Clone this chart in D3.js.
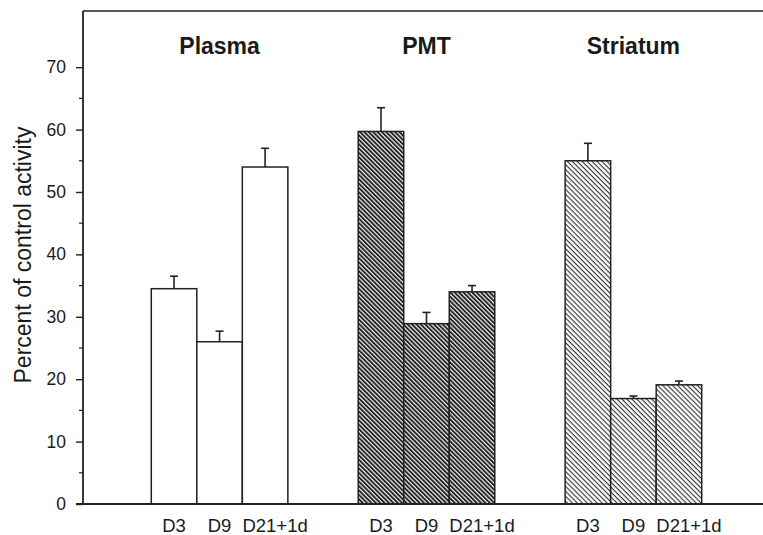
<!DOCTYPE html>
<html>
<head>
<meta charset="utf-8">
<script src="https://cdn.jsdelivr.net/npm/d3@7"></script>
<style>
  body { margin: 0; background: #fff; }
  text { font-family: "Liberation Sans", Arial, Helvetica, sans-serif; fill: #1a1a1a; }
</style>
</head>
<body>
<div id="chart"></div>
<script>
// data
const tissues = ["Plasma", "PMT", "Striatum"];
const sessions = ["D3", "D9", "D21+1d"];
const plasmaMeans = [34.5, 26.0, 54.0];
const plasmaErr = [2.0, 1.7, 3.0];
const pmtMeans = [59.7, 28.9, 34.0];
const pmtErr = [3.8, 1.8, 1.0];
const striatumMeans = [55.0, 16.9, 19.1];
const striatumErr = [2.8, 0.4, 0.6];
const yTicks = [0, 10, 20, 30, 40, 50, 60, 70];
const yMinorTicks = [5, 15, 25, 35, 45, 55, 65];

const width = 763;
const height = 535;
const plotLeft = 83, plotTop = 11, plotBottom = 504, plotRight = 763;

const means = [plasmaMeans, pmtMeans, striatumMeans];
const errs = [plasmaErr, pmtErr, striatumErr];
const data = [];
tissues.forEach((t, i) => {
    sessions.forEach((s, j) => {
        data.push({ tissue: t, session: s, value: means[i][j], err: errs[i][j] });
    });
});

const svg = d3.select("#chart").append("svg").attr("width", width).attr("height", height);

// hatch fills
const defs = svg.append("defs");
const pDark = defs.append("pattern")
    .attr("id", "hatchDark")
    .attr("patternUnits", "userSpaceOnUse")
    .attr("width", 3.1).attr("height", 3.1)
    .attr("patternTransform", "rotate(45)");
pDark.append("rect").attr("width", 3.1).attr("height", 3.1).attr("fill", "#222");
pDark.append("rect").attr("y", 0).attr("width", 3.1).attr("height", 1.2).attr("fill", "#f2f2f2");

const pLight = defs.append("pattern")
    .attr("id", "hatchLight")
    .attr("patternUnits", "userSpaceOnUse")
    .attr("width", 3.5).attr("height", 3.5)
    .attr("patternTransform", "rotate(45)");
pLight.append("rect").attr("width", 3.5).attr("height", 3.5).attr("fill", "#fff");
pLight.append("rect").attr("y", 0).attr("width", 3.5).attr("height", 1.1).attr("fill", "#333");

const fills = { "Plasma": "#fff", "PMT": "url(#hatchDark)", "Striatum": "url(#hatchLight)" };

// scales
const xGroup = d3.scaleBand()
    .domain(tissues)
    .range([plotLeft, 770])
    .paddingInner(0.34)
    .paddingOuter(0.33);

const xBar = d3.scaleBand()
    .domain(sessions)
    .range([0, xGroup.bandwidth()]);

const yScale = d3.scaleLinear()
    .domain([0, 79])
    .range([plotBottom, plotTop]);

// frame
svg.append("line")
    .attr("x1", plotLeft).attr("x2", plotRight)
    .attr("y1", plotTop).attr("y2", plotTop)
    .attr("stroke", "#222").attr("stroke-width", 1.6);

// y axis
const yAxis = d3.axisLeft(yScale).tickValues(yTicks).tickSize(7).tickPadding(10);
const gy = svg.append("g")
    .attr("transform", `translate(${plotLeft}, 0)`)
    .call(yAxis);
gy.select(".domain").attr("stroke", "#222").attr("stroke-width", 1.8).attr("d", `M0,${plotTop}V${plotBottom}`);
gy.selectAll(".tick line").attr("stroke", "#222").attr("stroke-width", 1.4);
gy.selectAll(".tick text").style("font-size", "17.5px").attr("fill", "#1a1a1a");

gy.selectAll(".minor")
    .data(yMinorTicks)
    .join("line")
    .attr("class", "minor")
    .attr("x1", -4).attr("x2", 0)
    .attr("y1", (d) => yScale(d)).attr("y2", (d) => yScale(d))
    .attr("stroke", "#222").attr("stroke-width", 1.2);

svg.append("text")
    .attr("transform", `translate(31, 255) rotate(-90)`)
    .attr("text-anchor", "middle")
    .style("font-size", "23px")
    .text("Percent of control activity");

// bars
const groups = svg.selectAll(".group")
    .data(tissues)
    .join("g")
    .attr("class", "group")
    .attr("transform", (d) => `translate(${xGroup(d)}, 0)`);

groups.append("text")
    .attr("x", xGroup.bandwidth() / 2)
    .attr("y", 54)
    .attr("text-anchor", "middle")
    .style("font-size", "23px")
    .style("font-weight", "bold")
    .text((d) => d);

const bars = groups.selectAll(".bar")
    .data((t) => data.filter((d) => d.tissue === t))
    .join("g")
    .attr("class", "bar");

// error bars first so the bar outline sits over the stem base
bars.append("line")
    .attr("x1", (d) => xBar(d.session) + xBar.bandwidth() / 2)
    .attr("x2", (d) => xBar(d.session) + xBar.bandwidth() / 2)
    .attr("y1", (d) => yScale(d.value))
    .attr("y2", (d) => yScale(d.value + d.err))
    .attr("stroke", "#222").attr("stroke-width", 1.6);

bars.append("line")
    .attr("x1", (d) => xBar(d.session) + xBar.bandwidth() / 2 - 4)
    .attr("x2", (d) => xBar(d.session) + xBar.bandwidth() / 2 + 4)
    .attr("y1", (d) => yScale(d.value + d.err))
    .attr("y2", (d) => yScale(d.value + d.err))
    .attr("stroke", "#222").attr("stroke-width", 1.6);

bars.append("rect")
    .attr("x", (d) => xBar(d.session))
    .attr("width", xBar.bandwidth())
    .attr("y", (d) => yScale(d.value))
    .attr("height", (d) => yScale(0) - yScale(d.value))
    .attr("fill", (d) => fills[d.tissue])
    .attr("stroke", "#222")
    .attr("stroke-width", 1.5);

// session labels
groups.selectAll(".lab")
    .data(sessions)
    .join("text")
    .attr("class", "lab")
    .attr("x", (d) => xBar(d) + xBar.bandwidth() / 2 + (d === "D21+1d" ? 10 : 0))
    .attr("y", 532)
    .attr("text-anchor", "middle")
    .style("font-size", "18.5px")
    .text((d) => d);

// baseline
svg.append("line")
    .attr("x1", plotLeft - 7).attr("x2", plotRight)
    .attr("y1", plotBottom).attr("y2", plotBottom)
    .attr("stroke", "#222").attr("stroke-width", 1.8);
</script>
</body>
</html>
